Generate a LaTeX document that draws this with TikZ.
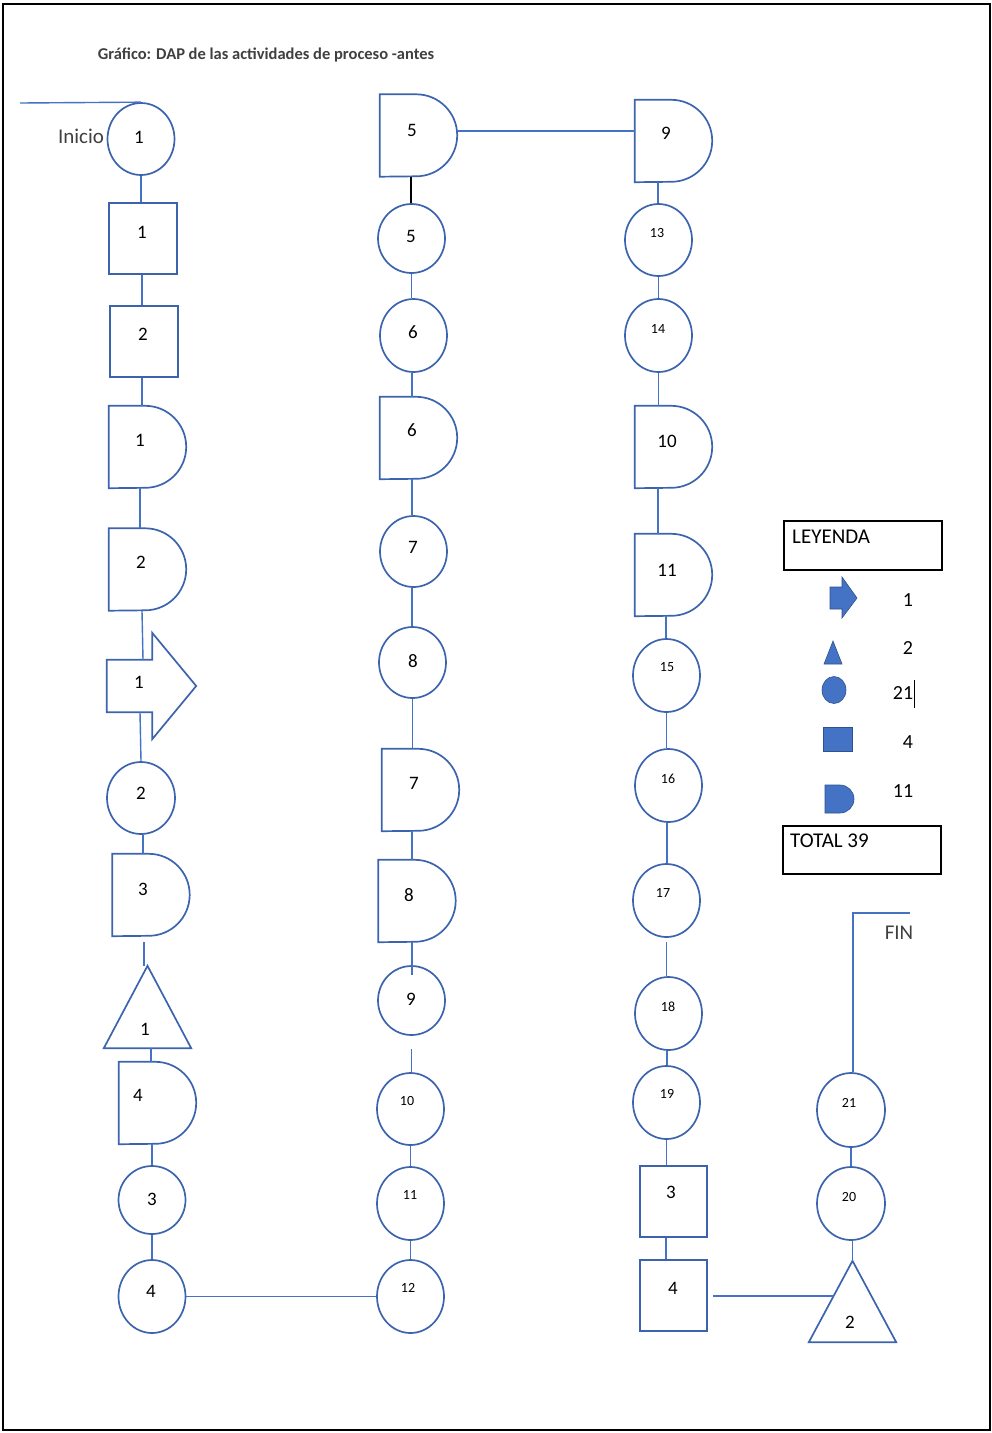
\documentclass[tikz,border=0pt]{standalone}
\usepackage{fontspec}
\setmainfont{Carlito}
\usetikzlibrary{shapes.geometric,calc}
\definecolor{shapeblue}{HTML}{3C64AE}
\definecolor{lineblue}{HTML}{4472C4}
\definecolor{fillblue}{HTML}{4472C4}
\definecolor{darkout}{HTML}{2F528F}
\definecolor{greytext}{HTML}{404040}
\newcommand\fsz[1]{\fontsize{#1}{#1}\selectfont}
\newcommand\dshape[3]{%
  \node[dbox] (#1) at (#2,#3) {};
  \draw[outl] (#1.north west) -- ([xshift=-41pt]#1.north east) arc[start angle=90, end angle=-90, radius=41pt] -- (#1.south west) -- cycle;}
\newcommand\tshape[3]{%
  \node[tbox] (#1) at (#2,#3) {};
  \draw[outl] (#1.south west) -- (#1.north) -- (#1.south east) -- cycle;}
\begin{document}
\begin{tikzpicture}[x=1pt,y=-1pt,
  outl/.style={draw=shapeblue, line width=1.7pt, line join=miter},
  circ/.style={ellipse, outl, minimum width=67pt, minimum height=72pt, inner sep=0pt},
  sq/.style={rectangle, outl, minimum width=68pt, minimum height=71pt, inner sep=0pt},
  dbox/.style={rectangle, draw=none, minimum width=77pt, minimum height=82pt, inner sep=0pt},
  tbox/.style={rectangle, draw=none, minimum width=87pt, minimum height=82pt, inner sep=0pt},
  abox/.style={rectangle, draw=none, minimum width=45pt, minimum height=52pt, inner sep=0pt},
  conn/.style={draw=lineblue, line width=1.4pt},
  num/.style={font=\fsz{19}, text=black, inner sep=0pt},
  snum/.style={font=\fsz{14}, text=black, inner sep=0pt},
  lnum/.style={font=\fsz{20}, text=black, inner sep=0pt},
  big/.style={font=\fsz{21}, inner sep=0pt},
  legbox/.style={rectangle, draw=black, line width=1.2pt, minimum width=158pt, minimum height=48pt, inner sep=0pt},
  legfill/.style={fill=fillblue, draw=darkout, line width=0.6pt}]
\useasboundingbox (0,0) rectangle (992,1433);
\fill[white] (0,0) rectangle (992,1433);
\draw[black, line width=1.6pt] (3,4) rectangle (990,1430);

% title
\node[font=\bfseries\fsz{16.5}, text=greytext, inner sep=0pt] (title) at (266,55) {Gráfico: DAP de las actividades de proceso -antes};

% ---------- left column ----------
\node[circ] (c1) at (141,139) {};
\node[sq] (s1) at (143,238.5) {};
\node[sq] (s2) at (144,341.5) {};
\dshape{d1}{147.5}{447}
\dshape{d2}{147.5}{569.5}
\node[abox] (a1) at (129.5,686) {};
\draw[outl] (a1.north west) -- (a1.north east) -- ++(0,-27) -- ([xshift=44pt]a1.east) -- ([yshift=-27pt]a1.south east) -- (a1.south east) -- (a1.south west) -- cycle;
\node[circ, minimum width=68pt] (c2) at (141,798) {};
\dshape{d3}{151}{895}
\tshape{t1}{147.5}{1007}
\dshape{d4}{157.5}{1103}
\node[circ, minimum height=68pt] (c3) at (152,1200) {};
\node[circ, minimum height=73pt] (c4) at (152,1296.5) {};

% ---------- middle column ----------
\dshape{d5}{418.5}{135.5}
\node[circ, minimum height=69pt] (c5) at (411.5,238.5) {};
\node[circ, minimum height=73pt] (c6) at (413.5,335.5) {};
\dshape{d6}{418.5}{438}
\node[circ, minimum height=71pt] (c7) at (413.5,551.5) {};
\node[circ, minimum height=71pt] (c8) at (412.5,662.5) {};
\dshape{d7}{420.5}{790}
\dshape{d8}{417}{901}
\node[circ, minimum height=69pt] (c9) at (411.5,1000.5) {};
\node[circ] (c10) at (410.5,1109) {};
\node[circ, minimum height=73pt] (c11) at (410.5,1203.5) {};
\node[circ, minimum height=73pt] (c12) at (410.5,1296.5) {};

% ---------- right column ----------
\dshape{d9}{673.5}{141}
\node[circ] (c13) at (658.5,240) {};
\node[circ, minimum height=73pt] (c14) at (658.5,335.5) {};
\dshape{d10}{673.5}{447}
\dshape{d11}{673.5}{575}
\node[circ, minimum height=73pt] (c15) at (666.5,675.5) {};
\node[circ, minimum height=73pt] (c16) at (668.5,785.5) {};
\node[circ, minimum height=73pt] (c17) at (666.5,900.5) {};
\node[circ, minimum height=73pt] (c18) at (668.5,1013.5) {};
\node[circ, minimum height=73pt] (c19) at (666.5,1102.5) {};
\node[sq, minimum width=67pt] (s3) at (673.5,1201.5) {};
\node[sq, minimum width=67pt] (s4) at (673.5,1295.5) {};
\node[tbox, minimum height=81pt] (t2) at (852.5,1301.5) {};
\draw[outl] (t2.south west) -- (t2.north) -- (t2.south east) -- cycle;
\node[circ, minimum width=68pt, minimum height=73pt] (c20) at (851,1203.5) {};
\node[circ, minimum width=68pt, minimum height=74pt] (c21) at (851,1110) {};

% ---------- labels ----------
\node[num] (c1t) at (139,137) {1};
\node[num] (s1t) at (142,232) {1};
\node[num] (s2t) at (143,334) {2};
\node[num] (d1t) at (140,440) {1};
\node[num] (d2t) at (141,562) {2};
\node[num] (a1t) at (139,682) {1};
\node[num] (c2t) at (141,793) {2};
\node[num] (d3t) at (143,889) {3};
\node[num] (t1t) at (145,1029) {1};
\node[num] (d4t) at (138,1095) {4};
\node[num] (c3t) at (152,1199) {3};
\node[num] (c4t) at (151,1291) {4};
\node[num] (d5t) at (412,130) {5};
\node[num] (c5t) at (411,236) {5};
\node[num] (c6t) at (413,332) {6};
\node[num] (d6t) at (412,430) {6};
\node[num] (c7t) at (413,547) {7};
\node[num] (c8t) at (413,661) {8};
\node[num] (d7t) at (414,783) {7};
\node[num] (d8t) at (409,895) {8};
\node[num] (c9t) at (411,999) {9};
\node[snum] (c10t) at (407,1101) {10};
\node[snum] (c11t) at (410,1195) {11};
\node[snum] (c12t) at (408,1288) {12};
\node[num] (d9t) at (666,133) {9};
\node[snum] (c13t) at (657,233) {13};
\node[snum] (c14t) at (658,329) {14};
\node[num] (d10t) at (667,441) {10};
\node[num] (d11t) at (667,570) {11};
\node[snum] (c15t) at (667,667) {15};
\node[snum] (c16t) at (668,779) {16};
\node[snum] (c17t) at (663,893) {17};
\node[snum] (c18t) at (668,1007) {18};
\node[snum] (c19t) at (667,1094) {19};
\node[num] (s3t) at (671,1192) {3};
\node[num] (s4t) at (673,1288) {4};
\node[num] (t2t) at (850,1322) {2};
\node[snum] (c20t) at (849,1197) {20};
\node[snum] (c21t) at (849,1103) {21};

\node[big, text=greytext] (inicio) at (81,136) {Inicio};
\node[big, text=greytext] (fin) at (899,933) {FIN};

% ---------- connectors ----------
\coordinate (st) at (20,103);
\draw[conn] (st) -- (c1.north);
\draw[conn] (c1.south) -- (c1.south |- s1.north);
\draw[conn] ([xshift=-1pt]s1.south) -- ([xshift=-1pt]s1.south |- s2.north);
\draw[conn] ([xshift=-2pt]s2.south) -- ([xshift=-2pt]s2.south |- d1.north);
\draw[conn] ([xshift=-7.5pt]d1.south) -- ([xshift=-7.5pt]d2.north);
\draw[conn] ([xshift=-5.5pt]d2.south) -- ([xshift=13.5pt]a1.north);
\draw[conn] ([xshift=10.5pt]a1.south) -- (c2.north);
\draw[conn] ([xshift=2pt]c2.south) -- ([xshift=2pt]c2.south |- d3.north);
\draw[conn, shorten <=6pt] ([xshift=-7pt]d3.south) -- ([xshift=-7pt]d3.south |- t1.north);
\draw[conn] ([xshift=3.5pt]t1.south) -- ([xshift=3.5pt]t1.south |- d4.north);
\draw[conn] ([xshift=-5.5pt]d4.south) -- (c3.north);
\draw[conn] (c3.south) -- (c4.north);
\draw[conn] (c4.east) -- (c4.east -| c12.west);

\draw[conn] ([yshift=4.5pt]d5.east) -- ([yshift=4.5pt]d5.east -| d9.west);
\draw[black, line width=1.3pt] ([xshift=-7.5pt]d5.south) -- ([xshift=-7.5pt]d5.south |- c5.north);
\draw[conn] (c5.south) -- (c5.south |- c6.north);
\draw[conn] ([xshift=-1.5pt]c6.south) -- ([xshift=-1.5pt]c6.south |- d6.north);
\draw[conn] ([xshift=-6.5pt]d6.south) -- ([xshift=-6.5pt]d6.south |- c7.north);
\draw[conn] ([xshift=-1.5pt]c7.south) -- ([xshift=-1.5pt]c7.south |- c8.north);
\draw[conn] (c8.south) -- (c8.south |- d7.north);
\draw[conn] ([xshift=-8.5pt]d7.south) -- ([xshift=-8.5pt]d7.south |- d8.north);
\draw[conn] ([xshift=-5pt]d8.south) -- ([xshift=-5pt,yshift=-10pt]d8.south |- c9.north);
\draw[conn, shorten <=13pt] (c9.south) -- (c9.south |- c10.north);
\draw[conn] (c10.south) -- (c11.north);
\draw[conn] (c11.south) -- (c12.north);

\draw[conn] ([xshift=-15.5pt]d9.south) -- ([xshift=-15.5pt]d9.south |- c13.north);
\draw[conn] (c13.south) -- (c14.north);
\draw[conn] (c14.south) -- (c14.south |- d10.north);
\draw[conn] ([xshift=-15.5pt]d10.south) -- ([xshift=-15.5pt]d10.south |- d11.north);
\draw[conn] ([xshift=-7.5pt]d11.south) -- ([xshift=-7.5pt]d11.south |- c15.north);
\draw[conn] (c15.south) -- (c15.south |- c16.north);
\draw[conn] ([xshift=-1.5pt]c16.south) -- ([xshift=-1.5pt]c16.south |- c17.north);
\draw[conn, shorten <=4pt] (c17.south) -- (c17.south |- c18.north);
\draw[conn] ([xshift=-1.5pt]c18.south) -- ([xshift=-1.5pt]c18.south |- c19.north);
\draw[conn] (c19.south) -- (c19.south |- s3.north);
\draw[conn] ([xshift=-7.5pt]s3.south) -- ([xshift=-7.5pt]s3.south |- s4.north);
\coordinate (t2l) at ($(t2.north)!0.43!(t2.south west)$);
\draw[conn] ([xshift=5pt]s4.east |- t2l) -- (t2l);
\draw[conn] (t2.north) -- (t2.north |- c20.south);
\draw[conn] (c20.north) -- (c21.south);
\coordinate (finend) at (910,913);
\draw[conn] ([xshift=2pt]c21.north) |- (finend);

% ---------- legend ----------
\node[legbox, minimum height=49pt] (ley) at (863,545.5) {};
\node[big, text=black, anchor=north west] (leyt) at (792,530) {LEYENDA};
\node[legbox] (tot) at (862,850) {};
\node[big, text=black, anchor=north west] (tott) at (790,834) {TOTAL 39};

\draw[legfill] (830,587) -- (842,587) -- (842,577) -- (857,598) -- (842,618) -- (842,609) -- (830,609) -- cycle;
\draw[legfill] (824,664) -- (833,641) -- (842,664) -- cycle;
\draw[legfill] (834,690) ellipse[x radius=12, y radius=13.5];
\draw[legfill] (823,727) rectangle (852,751);
\draw[legfill] (825,785) -- (840,785) arc[start angle=90, end angle=-90, radius=14pt] -- (825,813) -- cycle;

\node[lnum] (l1) at (908,600) {1};
\node[lnum] (l2) at (908,648) {2};
\node[lnum] (l3) at (903,693) {21};
\node[lnum] (l4) at (908,742) {4};
\node[lnum] (l5) at (903,791) {11};
\coordinate (cur1) at (914,680);
\coordinate (cur2) at (914,708);
\draw[black, line width=1pt] (cur1) -- (cur2);
\end{tikzpicture}
\end{document}
